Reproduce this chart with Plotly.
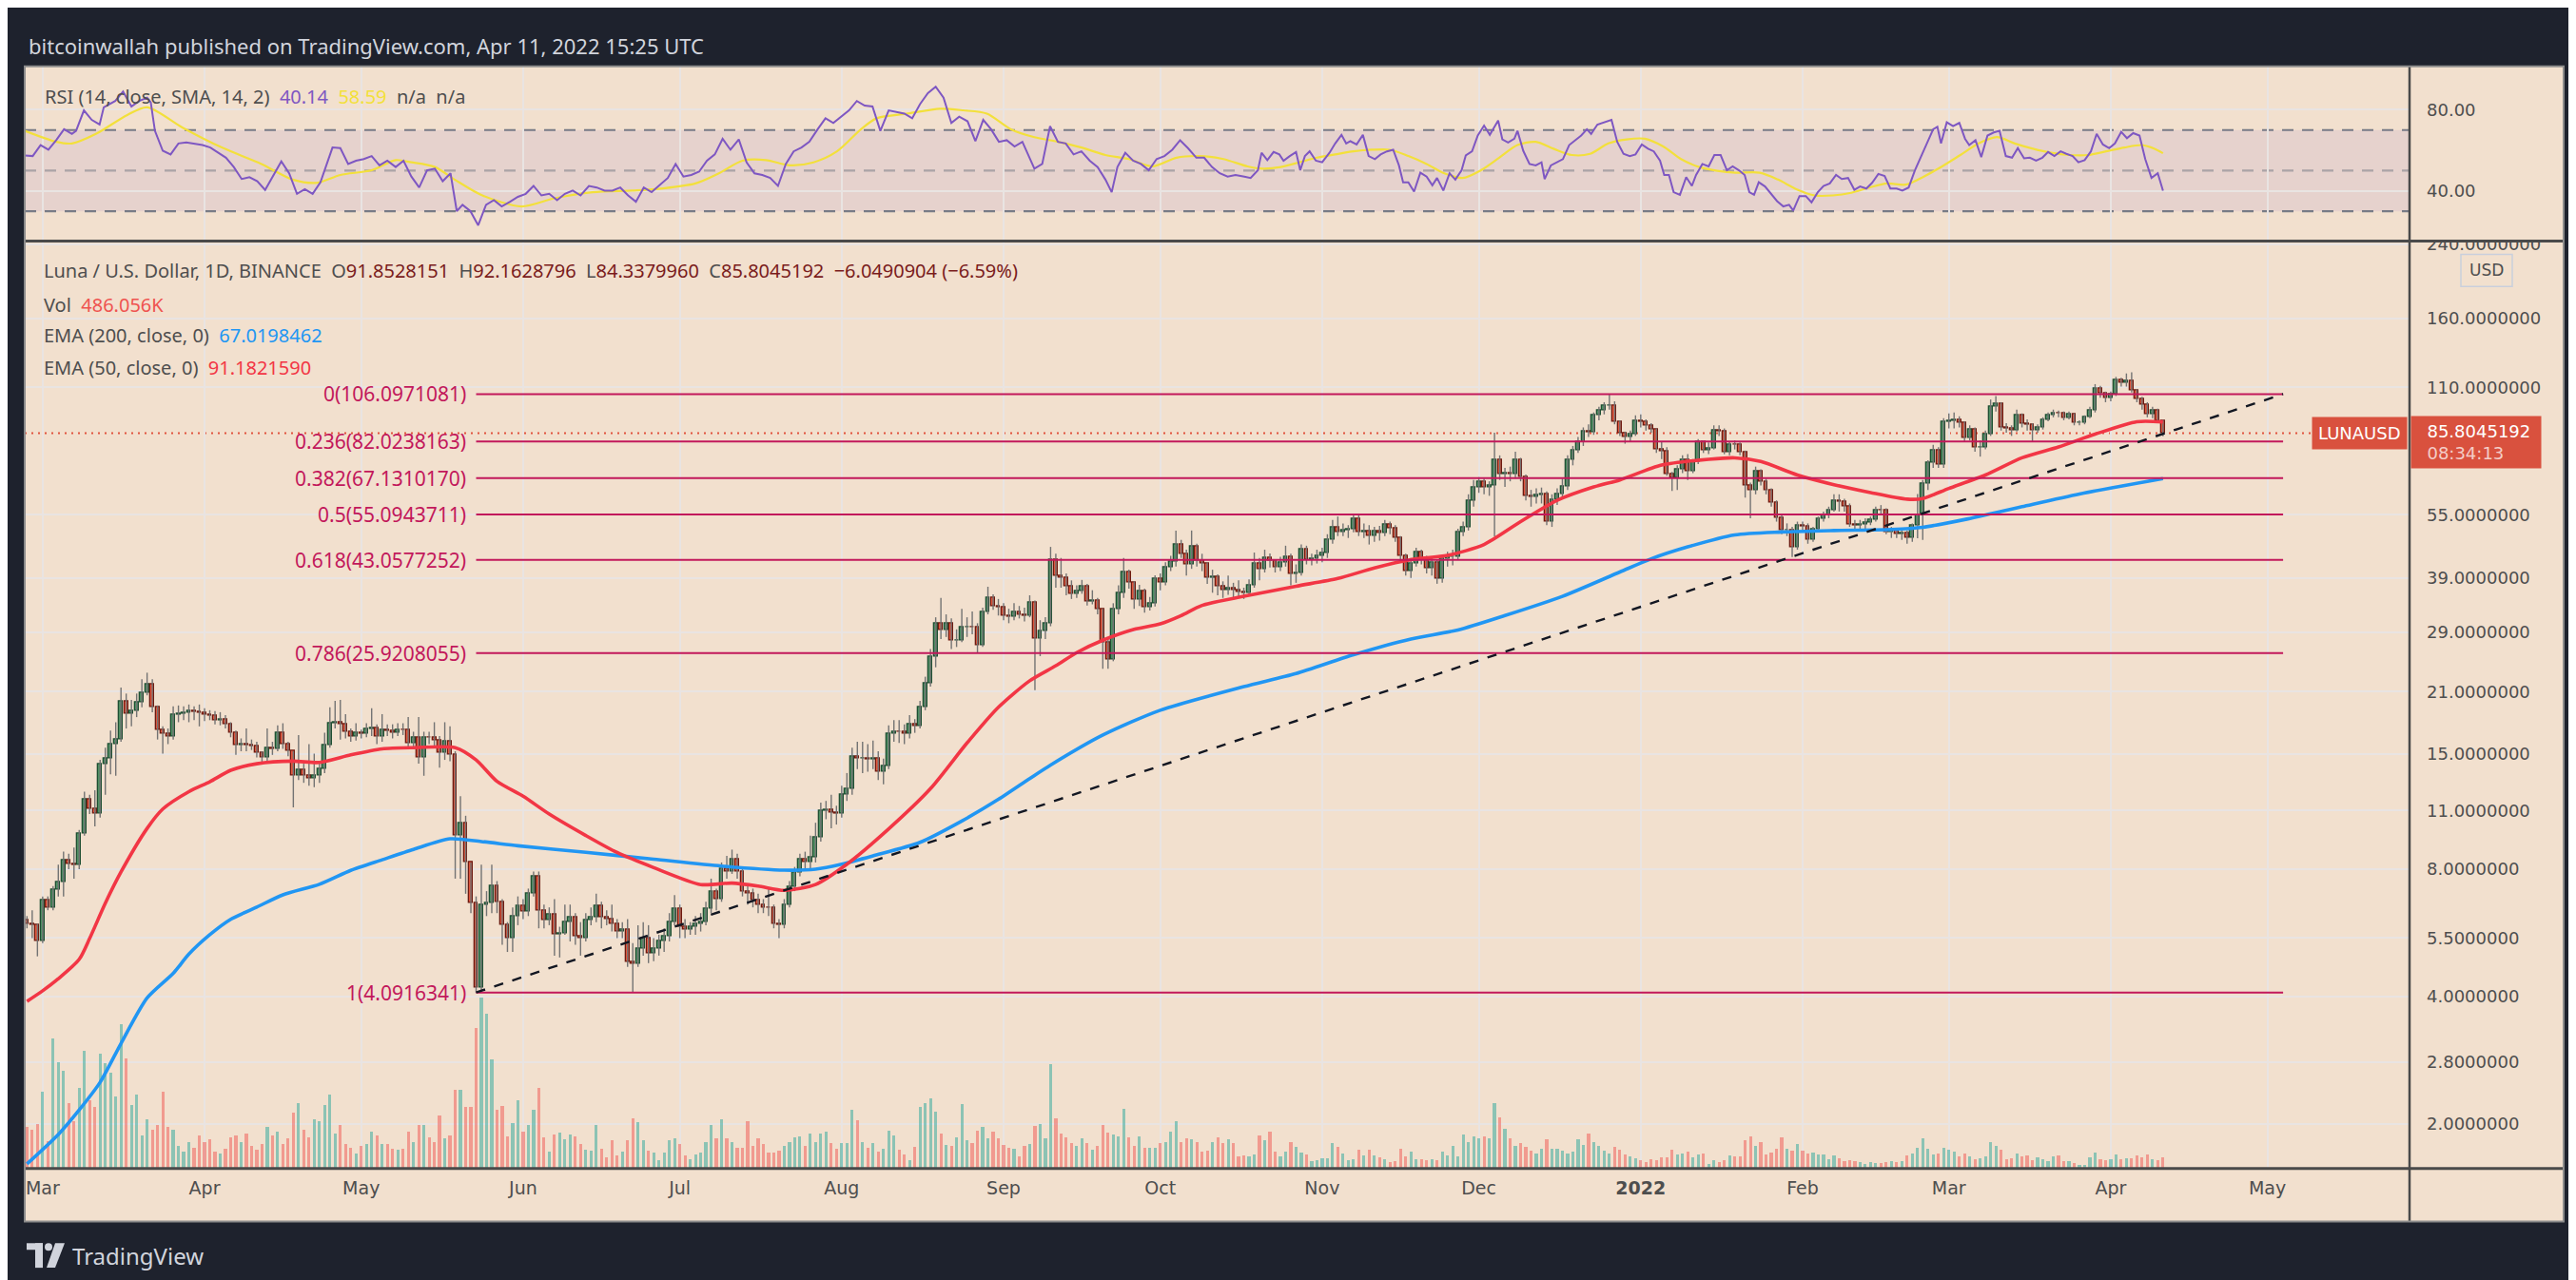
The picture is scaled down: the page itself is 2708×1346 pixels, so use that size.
import math
import pandas as pd
import plotly.graph_objects as go

W, H = 2708, 1346

# ---------------- daily candles LUNA/USD, from 2021-02-26 ----------------
first_open = 6.05

close_feb21 = [5.95, 5.90, 5.40]
high_feb21 = [6.20, 6.40, 5.95]
low_feb21 = [5.80, 5.50, 4.98]

close_mar21 = [6.77, 6.50, 7.17, 7.45, 8.42, 8.22, 8.20, 9.70, 11.70, 11.10, 10.80, 14.20, 14.60, 15.80, 16.20, 19.90,
               18.60, 18.90, 19.80, 20.90, 21.90, 19.30, 17.10, 16.70, 16.50, 18.50, 18.60, 18.70, 18.90, 18.80, 18.75]
high_mar21 = [6.90, 6.90, 7.30, 8.20, 8.80, 8.70, 9.00, 9.90, 12.20, 12.00, 12.30, 14.50, 15.50, 17.00, 17.80, 21.50,
              20.80, 20.10, 20.80, 22.50, 23.30, 22.50, 19.50, 17.40, 17.20, 19.40, 19.50, 19.40, 19.60, 19.40, 19.60]
low_mar21 = [5.35, 6.40, 6.40, 6.90, 6.90, 8.00, 7.60, 8.00, 9.60, 10.80, 10.10, 10.60, 12.00, 13.40, 13.30, 16.00,
             17.20, 17.40, 18.30, 19.30, 20.60, 18.80, 16.20, 15.00, 15.80, 16.20, 17.80, 18.00, 17.80, 18.00, 17.40]

close_apr21 = [18.50, 18.45, 18.00, 18.10, 17.60, 16.80, 15.70, 15.80, 15.70, 15.65, 15.10, 14.70, 15.50, 15.40, 16.80,
               15.80, 15.20, 13.30, 13.70, 13.30, 13.10, 13.30, 13.80, 15.70, 17.70, 17.75, 17.60, 16.90, 16.50, 16.80]
high_apr21 = [19.20, 19.00, 18.90, 18.80, 18.50, 17.80, 17.00, 16.30, 17.20, 16.20, 16.00, 15.20, 17.20, 16.00, 17.50,
              17.70, 16.00, 15.20, 16.60, 14.20, 15.80, 15.00, 14.40, 16.80, 19.30, 20.00, 20.10, 18.60, 17.20, 17.70]
low_apr21 = [17.90, 18.00, 17.60, 17.50, 17.20, 16.40, 14.90, 15.20, 15.20, 15.30, 14.70, 14.20, 14.40, 14.90, 15.20,
             15.40, 14.80, 11.20, 13.00, 12.80, 12.60, 12.50, 12.80, 13.50, 15.50, 17.20, 16.20, 16.30, 16.00, 16.10]

close_may21 = [16.70, 17.20, 17.25, 16.50, 17.10, 17.00, 16.80, 17.10, 17.05, 15.90, 16.40, 14.70, 16.40, 16.35, 16.10,
               15.10, 16.00, 14.90, 9.60, 10.30, 8.30, 6.64, 4.20, 6.60, 6.65, 7.30, 6.70, 5.90, 5.50, 6.20, 6.55]
high_may21 = [17.10, 17.70, 19.20, 17.60, 18.60, 17.60, 17.60, 17.70, 17.70, 18.30, 16.90, 18.30, 16.90, 16.90, 17.80,
              16.50, 17.80, 17.40, 15.20, 11.90, 10.70, 8.30, 6.90, 8.20, 7.10, 8.20, 7.50, 6.80, 6.00, 6.50, 6.90]
low_may21 = [16.30, 16.40, 16.50, 15.80, 16.00, 16.50, 16.30, 16.50, 16.60, 15.60, 15.60, 14.20, 13.30, 15.80, 15.50,
             13.90, 14.50, 14.40, 7.60, 7.60, 7.00, 6.30, 4.0916, 4.15, 6.20, 6.30, 6.30, 5.30, 5.10, 5.10, 5.90]

close_jun21 = [6.35, 7.00, 7.70, 6.40, 6.05, 6.25, 5.60, 5.63, 6.00, 6.15, 5.55, 5.50, 6.05, 6.15, 6.55,
               6.15, 6.10, 5.95, 5.70, 5.75, 4.83, 4.78, 5.20, 5.50, 5.05, 5.20, 5.40, 5.55, 6.00, 6.45]
high_jun21 = [6.80, 7.20, 7.90, 7.90, 6.60, 6.50, 6.80, 5.85, 6.60, 6.60, 6.30, 6.00, 6.30, 6.50, 7.00,
              6.70, 6.40, 6.60, 6.10, 6.00, 6.10, 5.35, 5.90, 6.00, 5.90, 5.50, 5.60, 5.80, 6.30, 6.95]
low_jun21 = [6.10, 6.20, 6.90, 5.80, 5.80, 5.90, 5.00, 4.95, 5.60, 5.40, 5.30, 5.00, 5.40, 5.90, 6.00,
             5.80, 5.90, 5.70, 5.50, 5.50, 4.70, 4.10, 4.70, 5.00, 4.80, 4.85, 5.00, 5.10, 5.40, 5.90]

close_jul21 = [5.85, 5.75, 5.85, 5.95, 6.00, 6.45, 7.10, 6.80, 8.00, 7.90, 8.45, 7.90, 7.10, 7.00, 6.75, 6.60,
               6.50, 6.47, 5.95, 5.90, 6.60, 7.25, 7.85, 8.45, 8.30, 8.55, 9.50, 11.00, 11.05, 10.90, 10.80]
high_jul21 = [6.60, 6.10, 6.00, 6.20, 6.30, 6.70, 7.60, 7.20, 8.30, 8.60, 8.90, 8.70, 8.00, 7.40, 7.20, 7.00,
              6.80, 7.20, 6.60, 6.10, 6.80, 7.50, 8.10, 8.70, 8.80, 9.60, 10.30, 11.50, 11.60, 12.00, 11.30]
low_jul21 = [5.50, 5.50, 5.60, 5.60, 5.70, 5.90, 6.30, 6.40, 6.70, 7.60, 7.80, 7.60, 6.90, 6.60, 6.50, 6.30,
             6.30, 6.20, 5.80, 5.50, 5.80, 6.50, 7.10, 7.70, 8.00, 8.00, 8.30, 9.30, 10.50, 10.00, 10.20]

close_aug21 = [12.00, 12.40, 14.80, 14.60, 14.65, 14.55, 14.60, 13.60, 14.00, 16.70, 16.90, 16.85, 16.70, 17.60, 17.40,
               19.30, 22.00, 25.40, 30.50, 29.40, 30.50, 27.70, 27.80, 29.80, 29.90, 29.85, 27.10, 32.50, 35.00, 33.50, 33.30]
high_aug21 = [12.60, 13.50, 15.50, 16.00, 16.00, 15.80, 16.10, 15.20, 14.60, 17.50, 18.00, 18.00, 17.60, 18.50, 18.10,
              20.00, 22.80, 26.50, 31.50, 35.00, 32.00, 31.30, 29.50, 33.00, 31.50, 32.50, 30.50, 33.20, 37.20, 35.70, 34.80]
low_aug21 = [10.60, 11.60, 12.00, 13.80, 13.50, 13.60, 13.80, 13.00, 12.70, 13.80, 16.00, 15.90, 15.80, 16.30, 16.80,
             17.20, 19.00, 21.60, 24.00, 28.00, 28.30, 26.50, 26.80, 27.50, 28.30, 28.70, 26.00, 26.80, 32.00, 32.80, 31.80]

close_sep21 = [31.70, 31.65, 32.50, 31.90, 31.70, 34.20, 28.00, 29.20, 30.50, 43.10, 39.40, 39.00, 37.30, 35.70, 36.40,
               37.30, 34.40, 34.50, 32.90, 27.50, 25.00, 33.00, 36.00, 40.20, 38.00, 34.70, 36.40, 33.30, 34.00, 38.80]
high_sep21 = [34.00, 33.00, 34.00, 33.50, 33.20, 35.50, 34.50, 31.00, 31.50, 46.20, 44.50, 43.50, 40.00, 38.50, 37.50,
              38.60, 37.80, 36.50, 35.00, 33.00, 28.00, 34.00, 37.50, 43.50, 40.80, 38.30, 37.60, 36.80, 35.20, 39.60]
low_sep21 = [31.00, 30.50, 31.00, 31.30, 30.80, 31.50, 21.20, 25.50, 28.00, 30.00, 37.00, 37.00, 35.50, 34.80, 35.00,
             35.80, 33.60, 33.80, 32.00, 23.80, 23.80, 24.80, 32.00, 35.00, 36.80, 33.00, 33.50, 32.30, 32.70, 33.40]

close_oct21 = [38.0, 41.3, 42.6, 46.8, 44.5, 42.0, 46.3, 42.9, 42.2, 39.1, 39.3, 37.3, 36.5, 36.8, 36.5, 36.2,
               35.9, 37.5, 42.3, 41.0, 43.6, 42.9, 41.3, 42.5, 43.7, 39.8, 40.0, 45.6, 43.0, 43.2, 44.0]
high_oct21 = [40.0, 42.5, 44.0, 50.5, 48.0, 45.5, 50.5, 47.0, 44.5, 42.5, 40.8, 39.8, 38.3, 39.5, 38.0, 38.5,
              37.0, 38.7, 44.8, 43.5, 45.5, 44.6, 43.2, 43.8, 46.5, 44.5, 42.0, 46.8, 46.5, 44.5, 45.5]
low_oct21 = [36.5, 37.5, 40.5, 41.5, 43.5, 39.5, 41.0, 41.5, 40.5, 37.8, 36.0, 35.5, 35.0, 35.6, 35.0, 35.2,
             34.8, 35.3, 37.0, 38.5, 40.2, 41.3, 40.2, 40.5, 41.5, 37.5, 38.0, 39.5, 42.0, 41.8, 42.2]

close_nov21 = [44.6, 48.0, 51.5, 50.1, 50.6, 50.9, 53.8, 50.1, 50.3, 49.0, 50.4, 49.8, 52.2, 51.0, 48.6,
               43.9, 40.4, 42.2, 44.8, 43.3, 41.2, 42.5, 38.8, 43.3, 43.7, 43.8, 50.1, 51.4, 59.5, 63.8]
high_nov21 = [46.0, 49.5, 53.5, 54.5, 52.5, 52.0, 55.0, 55.2, 52.5, 52.0, 51.5, 51.8, 53.5, 53.0, 52.0,
              49.0, 44.5, 43.5, 46.0, 45.5, 44.0, 43.5, 43.0, 43.8, 45.0, 45.5, 51.0, 53.0, 61.5, 66.5]
low_nov21 = [42.5, 43.5, 47.0, 49.0, 49.0, 48.5, 50.0, 49.0, 48.5, 46.8, 47.5, 47.8, 49.0, 49.5, 47.5,
             42.5, 39.5, 39.0, 41.5, 42.0, 40.0, 39.5, 37.8, 38.0, 41.5, 41.8, 43.0, 49.0, 50.5, 57.5]

close_dec21 = [65.9, 63.8, 64.5, 74.0, 68.8, 69.0, 68.6, 74.0, 67.6, 61.0, 60.6, 61.2, 61.5, 53.0, 59.8, 61.5,
               64.3, 74.3, 78.3, 81.7, 86.7, 86.0, 94.5, 96.9, 99.5, 99.7, 91.3, 85.6, 84.1, 85.3, 91.6]
high_dec21 = [67.5, 67.0, 66.0, 86.0, 76.0, 71.0, 71.5, 77.5, 75.0, 68.5, 63.0, 63.5, 63.8, 62.5, 61.5, 63.5,
              67.0, 76.0, 80.0, 84.0, 88.5, 90.0, 96.0, 99.0, 101.5, 106.1, 102.0, 92.0, 86.5, 87.0, 94.5]
low_dec21 = [62.0, 61.5, 61.0, 48.9, 66.5, 64.0, 66.0, 67.0, 66.0, 59.5, 57.5, 58.5, 58.5, 52.0, 51.5, 58.0,
             60.5, 63.0, 72.0, 77.0, 80.0, 84.0, 85.0, 92.0, 95.0, 97.5, 90.0, 84.5, 81.0, 82.0, 84.5]

close_jan22 = [91.0, 89.5, 87.5, 78.5, 77.8, 68.8, 67.1, 70.6, 74.1, 69.6, 73.3, 81.7, 78.3, 79.0, 87.0, 86.8,
               77.2, 80.7, 80.5, 77.2, 64.6, 62.9, 69.7, 65.8, 62.9, 58.7, 54.0, 50.5, 50.7, 46.2, 51.9]
high_jan22 = [95.0, 92.5, 90.5, 88.0, 82.0, 79.5, 69.5, 72.0, 76.0, 76.5, 74.5, 83.0, 82.5, 81.5, 89.5, 89.5,
              88.0, 82.0, 82.5, 81.5, 78.0, 65.5, 71.5, 70.5, 67.0, 63.5, 59.5, 55.0, 52.5, 51.5, 53.0]
low_jan22 = [88.5, 87.0, 86.0, 77.0, 74.5, 68.0, 62.6, 63.0, 69.0, 66.5, 69.0, 72.5, 77.0, 76.5, 78.5, 84.5,
             76.5, 76.0, 78.5, 76.0, 60.4, 54.0, 61.5, 64.5, 61.5, 57.5, 53.0, 49.5, 49.0, 43.7, 45.5]

close_feb22 = [51.7, 48.0, 50.9, 53.8, 54.9, 56.5, 59.5, 59.0, 57.5, 52.3, 51.9, 52.2, 52.8, 53.6,
               56.5, 56.3, 50.1, 50.5, 49.6, 49.8, 48.6, 51.9, 55.0, 65.3, 73.1, 78.3, 72.3, 91.3]
high_feb22 = [53.0, 52.5, 51.5, 54.5, 56.0, 57.5, 61.5, 61.5, 60.0, 58.5, 53.5, 53.5, 54.0, 54.5,
              57.5, 58.0, 57.0, 51.5, 51.0, 51.0, 50.5, 52.5, 61.6, 66.5, 74.0, 80.5, 79.5, 93.0]
low_feb22 = [50.0, 47.0, 47.5, 50.5, 53.0, 54.0, 56.0, 56.0, 56.0, 51.5, 50.5, 50.5, 51.0, 52.0,
             53.0, 55.0, 49.5, 48.5, 48.5, 48.0, 47.0, 47.5, 48.4, 48.0, 63.0, 71.0, 71.0, 71.0]

close_mar22 = [91.8, 92.1, 90.6, 83.5, 87.5, 79.3, 79.5, 85.3, 99.2, 100.9, 88.3, 88.0, 87.0, 94.5, 90.1, 90.0,
               87.0, 88.6, 92.1, 94.5, 95.7, 95.4, 93.2, 94.9, 90.6, 90.8, 93.7, 97.0, 109.3, 106.5, 103.9]
high_mar22 = [95.5, 96.0, 94.0, 91.5, 89.5, 88.5, 82.5, 87.0, 103.0, 105.0, 101.5, 90.5, 89.5, 97.5, 95.5, 92.5,
              90.5, 90.0, 93.5, 96.0, 97.5, 97.0, 96.5, 96.5, 95.5, 92.0, 94.5, 99.0, 112.0, 111.0, 107.5]
low_mar22 = [88.0, 88.0, 88.5, 82.0, 82.5, 77.5, 75.5, 78.5, 84.5, 96.5, 87.0, 86.0, 84.5, 86.5, 88.5, 87.0,
             82.0, 86.0, 87.5, 91.5, 93.5, 93.5, 92.0, 92.5, 89.5, 89.5, 90.0, 93.0, 96.0, 104.0, 101.5]

close_apr22 = [106.0, 114.5, 112.6, 114.0, 108.4, 103.4, 100.0, 94.9, 97.3, 91.8528151, 85.8045192]
high_apr22 = [107.5, 116.5, 116.0, 118.7, 119.5, 109.0, 104.5, 101.5, 99.0, 98.0, 92.1628796]
low_apr22 = [102.0, 105.0, 110.5, 110.5, 107.0, 101.5, 97.5, 93.5, 93.0, 91.0, 84.3379960]

# volume, thousands
vol_feb21 = [1820, 1700, 1950]
vol_mar21 = [3340, 1200, 5630, 4620, 4250, 2830, 2070, 3480, 5100, 2960, 2670, 4980, 4540, 4170, 3120, 6240,
             4780, 2750, 3200, 1460, 2150, 1700, 1900, 3320, 1820, 1700, 1010, 730, 1170, 930, 1460]
vol_apr21 = [1170, 1260, 730, 650, 850, 1380, 1460, 1170, 1540, 1010, 810, 1090, 1820, 1460, 1620,
             1090, 1340, 2430, 2830, 1700, 1380, 2150, 2070, 2750, 3200, 1540, 1900, 1090, 930, 650]
vol_may21 = [1010, 1090, 1620, 1460, 1090, 1090, 850, 810, 850, 1620, 1170, 1900, 1900, 1380, 1170, 2310,
             1340, 1460, 3400, 3400, 2670, 2670, 6080, 7400, 6680, 4740, 2550, 2710, 1420, 1980, 2960]
vol_jun21 = [1620, 1900, 2550, 3480, 1380, 730, 1500, 1580, 1260, 1500, 1420, 1090, 810, 770, 1900,
             850, 490, 1220, 570, 730, 1220, 2190, 2030, 1220, 770, 690, 360, 690, 1220, 1340]
vol_jul21 = [1090, 570, 410, 610, 690, 1170, 1900, 1340, 2150, 1340, 1170, 930, 890, 2070, 1010, 1300,
             1090, 690, 690, 770, 1010, 1170, 1380, 1420, 1010, 1540, 1170, 1540, 1620, 1130, 850]
vol_aug21 = [1130, 1130, 2550, 2110, 1170, 930, 1130, 730, 850, 1660, 1460, 810, 610, 360, 970, 2670,
             2840, 3040, 2470, 1540, 1050, 1010, 1380, 2790, 1220, 1130, 1660, 1820, 1340, 1620, 1340]
vol_sep21 = [1050, 930, 850, 530, 1010, 1090, 1860, 1940, 1300, 4500, 2190, 1540, 1380, 1130, 1010,
             1300, 1130, 810, 1010, 1900, 1580, 1500, 1420, 2590, 1380, 1010, 1420, 930, 890, 890]
vol_oct21 = [1130, 1170, 1620, 2070, 1170, 1340, 1260, 1170, 730, 770, 1170, 1380, 1130, 1260, 1130, 530,
             570, 530, 610, 1460, 1220, 1620, 730, 530, 730, 1170, 970, 690, 610, 320, 360]
vol_nov21 = [450, 450, 1130, 970, 650, 360, 410, 810, 570, 810, 570, 490, 410, 280, 320,
             850, 530, 730, 410, 410, 360, 410, 360, 730, 570, 1010, 530, 1500, 1170, 1420]
vol_dec21 = [1300, 1420, 1300, 2840, 2230, 1740, 1340, 1010, 1130, 970, 770, 650, 850, 1260, 850, 850,
             770, 650, 730, 1260, 1050, 1540, 1170, 1010, 770, 650, 970, 810, 610, 530, 450]
vol_jan22 = [360, 280, 410, 360, 490, 490, 810, 610, 650, 730, 490, 610, 650, 200, 360, 280,
             360, 570, 530, 530, 1220, 1420, 1010, 1170, 610, 690, 850, 1380, 850, 770, 1090]
vol_feb22 = [770, 650, 690, 610, 610, 410, 570, 450, 320, 360, 320, 280, 200, 280,
             240, 240, 280, 320, 280, 320, 570, 650, 890, 1300, 850, 610, 650, 930]
vol_mar22 = [810, 730, 530, 650, 530, 410, 450, 530, 1170, 1010, 810, 410, 450, 650, 530, 570,
             360, 490, 410, 320, 530, 570, 320, 320, 240, 160, 160, 490, 690, 410, 360]
vol_apr22 = [410, 610, 410, 450, 450, 570, 490, 610, 410, 360, 486.056]

# EMA lines, days after 2021-04-01
ema200_day = [-34, -28, -24, -20, -16, -11, -6, -3, 1, 5, 10, 15, 22, 28, 34, 40, 47, 53, 60, 73, 86, 99, 111, 117,
              122, 128, 137, 145, 152, 158, 162, 172, 183, 199, 209, 220, 231, 240, 249, 260, 271, 277, 284, 293,
              302, 312, 323, 329, 337, 348, 359, 375]
ema200_val = [1.61, 1.89, 2.16, 2.51, 3.10, 3.97, 4.54, 5.04, 5.60, 6.09, 6.51, 6.96, 7.37, 7.95, 8.42, 8.91, 9.44,
              9.30, 9.09, 8.77, 8.45, 8.14, 7.96, 8.00, 8.22, 8.60, 9.26, 10.4, 11.7, 13.1, 14.1, 16.6, 19.0, 21.6,
              23.2, 25.7, 28.0, 29.4, 31.8, 35.3, 40.3, 43.3, 46.2, 49.3, 50.1, 50.5, 50.8, 51.4, 53.6, 57.5, 61.6,
              67.0198462]
ema50_day = [-34, -31, -28, -24, -22, -19, -16, -11, -8, -3, 1, 5, 10, 17, 22, 28, 34, 40, 48, 52, 56, 61, 66, 73,
             79, 86, 95, 101, 106, 111, 117, 123, 131, 139, 146, 152, 158, 163, 167, 172, 178, 183, 187, 191, 199,
             209, 217, 224, 231, 238, 245, 252, 259, 266, 271, 279, 288, 293, 298, 305, 312, 319, 326, 329, 334,
             341, 348, 355, 362, 370, 375]
ema50_val = [3.90, 4.13, 4.41, 4.90, 5.49, 6.65, 7.88, 9.99, 11.1, 12.2, 12.87, 13.7, 14.2, 14.4, 14.3, 14.9, 15.4,
             15.5, 15.5, 14.5, 12.9, 11.9, 10.8, 9.61, 8.76, 8.07, 7.36, 7.42, 7.30, 7.13, 7.36, 8.22, 9.96, 12.4,
             15.9, 19.3, 22.3, 24.2, 26.0, 27.8, 29.5, 30.4, 31.8, 33.6, 35.3, 37.3, 38.9, 41.2, 43.1, 44.1, 46.8,
             53.0, 59.5, 64.0, 66.5, 72.1, 74.4, 75.0, 73.5, 68.3, 64.8, 62.1, 59.9, 60.1, 63.5, 68.3, 75.0, 79.6,
             85.3, 91.3, 91.182159]

# RSI(14) and its SMA(14), days after 2021-04-01
rsi_day = [-34.4, -32.9, -31.4, -29.9, -28.4, -26.9, -25.4, -24.6, -23.1, -21.6, -20.1, -19.3, -17.1, -15.6, -14.0,
           -12.5, -11.0, -10.3, -9.5, -8.0, -6.5, -5.0, -3.5, -2.0, -0.4, 1.1, 2.6, 4.1, 5.6, 7.1, 8.6, 10.1, 11.6,
           13.1, 14.7, 16.2, 17.7, 19.2, 20.7, 22.2, 23.7, 24.5, 26.0, 27.5, 29.0, 30.5, 32.0, 33.5, 35.0, 36.6,
           38.1, 39.6, 41.1, 42.6, 44.1, 45.6, 47.1, 48.3, 49.4, 50.9, 52.4, 53.9, 55.4, 56.9, 58.5, 60.0, 61.5,
           63.0, 64.5, 66.0, 67.5, 69.0, 70.5, 72.0, 73.6, 75.1, 76.6, 78.1, 79.6, 81.1, 82.6, 84.1, 85.6, 87.2,
           88.7, 90.2, 91.7, 93.2, 94.7, 96.2, 97.7, 99.2, 100.7, 102.3, 103.8, 105.3, 106.8, 108.3, 109.8, 111.3,
           112.8, 114.3, 115.8, 117.4, 118.9, 120.4, 121.9, 123.4, 124.9, 126.4, 127.9, 129.4, 131.0, 132.5, 134.0,
           135.5, 137.0, 138.5, 140.0, 141.5, 143.0, 144.5, 146.1, 147.6, 149.1, 150.6, 152.1, 153.6, 155.1, 156.6,
           158.9, 160.4, 161.9, 163.4, 164.9, 166.4, 167.9, 169.5, 171.0, 172.5, 173.7, 174.8, 176.3, 177.8, 179.3,
           180.8, 182.3, 183.8, 185.3, 186.8, 188.3, 189.9, 191.4, 192.9, 194.4, 195.9, 197.4,
           199.1, 200.3, 201.7, 202.4, 203.5, 204.7, 205.8, 206.6, 207.8, 209.0, 209.8, 210.7, 211.6, 212.8, 214.0,
           215.4, 216.5, 217.7, 218.6, 219.4, 220.6, 221.8, 222.9, 224.1, 225.2, 226.4, 227.6, 228.7, 229.5, 230.5,
           231.6, 232.8, 234.0, 235.1, 236.0, 237.2, 238.4, 239.5, 240.7, 241.5, 242.7, 243.8, 245.0, 246.1, 247.7,
           248.5, 249.6, 250.8, 251.4, 252.5, 253.7, 254.9, 256.0, 256.6, 257.8, 258.9, 260.1, 261.3, 262.4, 263.6,
           264.7, 265.5, 266.7, 268.2, 269.4, 270.5, 271.7, 272.9, 274.0, 275.2, 276.4, 277.5, 278.7, 279.5, 280.4,
           281.3, 282.5, 283.7, 284.8, 285.6, 286.8, 288.0, 289.1, 290.3, 291.5, 292.6, 293.8, 294.9, 295.8, 296.7,
           297.6, 298.8, 300.0, 301.1, 302.3, 303.4, 304.2, 305.4, 306.6, 307.7, 308.9, 310.0, 311.2, 312.4, 313.5,
           314.7, 315.9, 317.0, 318.2, 319.3, 320.5, 321.7, 322.8, 324.0, 325.1, 326.3, 327.5, 328.6, 329.8, 331.0,
           331.8, 332.5, 333.6, 334.8, 336.0, 337.1, 337.9, 339.1, 340.2, 341.4, 342.6, 343.7, 344.9, 346.1, 347.2,
           348.4, 349.5, 350.7, 351.9, 353.0, 354.2, 355.4, 356.5, 357.7, 358.8, 360.0, 361.2, 362.3, 363.5, 364.7,
           365.8, 367.0, 368.1, 369.3, 370.5, 371.6, 372.8, 374.0, 375.0]
rsi_val = [57.5, 57.2, 62.6, 60.3, 65.0, 70.4, 68.1, 69.6, 79.7, 75.0, 72.7, 81.2, 84.3, 89.0, 81.6,
           84.3, 85.9, 83.6, 69.6, 59.8, 58.0, 63.4, 63.9, 63.4, 62.6, 61.4, 58.8, 56.4, 51.8, 45.9, 46.8, 44.8, 40.5,
           47.1, 54.6, 48.7, 38.6, 40.9, 38.6, 44.3, 54.9, 61.4, 61.1, 53.3, 54.9, 55.7, 57.2, 52.6, 54.9, 51.8,
           54.9, 47.1, 41.7, 50.2, 51.0, 44.8, 48.7, 30.1, 33.2, 30.1, 23.1, 33.2, 35.5, 32.4, 34.7, 37.1, 38.6,
           42.5, 37.8, 38.6, 35.5, 38.6, 40.2, 37.8, 42.5, 41.7, 40.2, 40.2, 41.7, 37.8, 34.7, 41.7, 39.4, 42.8,
           46.4, 53.3, 47.1, 47.9, 49.5, 54.9, 58.0, 65.7, 60.3, 65.4, 54.1, 48.7, 47.9, 46.4, 42.5, 53.3,
           59.5, 61.4, 64.2, 70.4, 75.8, 73.5, 76.6, 79.7, 84.3, 82.0, 81.6, 69.6, 79.7, 78.9, 78.1,
           75.8, 82.8, 88.2, 91.3, 85.9, 73.5, 76.6, 74.3, 64.5, 75.0, 70.4, 64.2, 65.0, 61.9, 64.2,
           51.0, 53.3, 71.9, 64.2, 63.4, 58.0, 59.5, 54.9, 51.8, 45.6, 39.4, 51.8, 58.8, 54.9, 53.3,
           50.2, 55.7, 57.2, 60.3, 65.0, 61.1, 56.4, 56.4, 51.8, 48.7, 47.1, 47.9,
           47.1, 46.4, 50.2, 58.8, 55.2, 59.2, 58.0, 54.9, 57.2, 59.2, 50.2, 57.2, 59.5, 54.9, 54.1,
           58.8, 63.4, 67.6, 63.4, 64.5, 62.9, 67.6, 57.2, 55.7, 58.0, 59.5, 60.3, 52.6, 44.3, 44.3,
           39.7, 49.0, 47.1, 42.8, 46.4, 40.2, 48.7, 45.6, 50.2, 57.5, 59.5, 67.3, 72.2, 67.6, 74.7,
           65.4, 63.9, 65.7, 69.6, 59.8, 53.3, 52.6, 54.1, 45.9, 52.6, 54.1, 55.7, 62.6, 65.0, 67.3,
           70.4, 68.1, 72.7, 73.8, 75.0, 64.2, 58.3, 57.2, 58.0, 62.9, 60.8, 59.5, 54.9, 47.9, 47.9,
           39.4, 38.1, 46.8, 42.5, 47.9, 53.3, 52.1, 57.7, 57.7, 50.2, 52.1, 50.2, 47.9, 39.4, 38.1,
           44.3, 42.2, 38.6, 35.0, 32.4, 33.2, 30.4, 37.5, 37.5, 34.4, 39.4, 42.5, 43.7, 47.9, 45.9,
           46.4, 40.6, 42.2, 41.2, 44.0, 48.4, 47.4, 41.2, 41.2, 40.2, 41.7, 50.2, 56.4, 63.4, 70.4,
           71.6, 63.4, 73.8, 71.9, 73.5, 65.7, 62.6, 65.0, 56.7, 67.3, 68.8, 69.6, 57.2, 56.4, 61.1,
           56.1, 56.4, 54.9, 56.4, 59.2, 57.2, 59.5, 58.3, 57.2, 54.1, 55.2, 59.5, 68.1, 62.9, 61.1,
           63.4, 69.1, 66.0, 68.5, 67.3, 55.7, 46.4, 48.7, 40.14]
rsi_ma_day = [-34.4, -28.4, -25.4, -20.8, -14.8, -11.0, -4.2, 3.3, 10.9, 16.9, 21.5, 26.0, 32.0, 36.6, 39.6, 44.1,
              47.9, 53.2, 60.7, 66.8, 74.3, 81.9, 86.4, 94.0, 98.5, 103.0, 107.5, 112.1, 116.6, 121.1, 125.7, 128.7,
              134.7, 140.8, 145.3, 149.8, 154.4, 158.9, 163.4, 167.9, 172.5, 177.0, 181.5, 186.1, 190.6, 195.1,
              199.7, 202.6, 206.1, 209.6, 213.0, 216.5, 220.0, 223.5, 227.0, 230.5, 234.0, 237.4, 240.9, 244.4,
              247.9, 251.4, 254.9, 258.3, 261.8, 265.3, 268.8, 272.3, 275.8, 279.3, 282.7, 286.2, 289.7, 293.2,
              297.8, 301.3, 304.8, 308.3, 311.8, 315.3, 318.8, 322.2, 325.7, 329.2, 332.7, 336.2, 339.7, 343.2,
              346.6, 350.1, 353.6, 357.1, 360.6, 364.1, 367.6, 371.0, 373.4, 375.0]
rsi_ma_val = [69.6, 64.2, 63.4, 68.1, 77.4, 81.2, 71.2, 61.4, 53.3, 45.6, 44.0, 47.9, 50.2, 55.2, 54.1, 51.8,
              45.6, 37.8, 32.4, 36.3, 39.4, 40.2, 40.9, 43.7, 48.7, 54.9, 55.2, 52.6, 54.1, 59.5, 70.4, 75.8,
              78.1, 80.5, 79.7, 78.1, 70.4, 66.5, 64.2, 61.4, 57.7, 55.7, 52.1, 56.4, 57.2, 55.7,
              52.1, 51.0, 51.8, 54.1, 56.4, 58.0, 59.5, 60.3, 60.3, 57.2, 53.3, 48.7, 46.4, 50.2,
              56.4, 62.6, 64.2, 60.8, 57.7, 58.3, 63.4, 65.4, 65.7, 61.9, 55.7, 51.8, 49.9, 49.0,
              49.0, 45.6, 40.9, 37.8, 37.8, 39.1, 41.7, 43.7, 43.1, 47.1, 52.1, 57.7, 63.4, 66.5,
              63.4, 60.8, 58.8, 57.7, 57.7, 59.5, 61.4, 62.6, 60.8, 58.59]

# Fibonacci retracement drawn from the May 2021 low to May 2022
fib_ratio = ['0', '0.236', '0.382', '0.5', '0.618', '0.786', '1']
fib_value = [106.0971081, 82.0238163, 67.1310170, 55.0943711, 43.0577252, 25.9208055, 4.0916341]
fib_start, fib_end = '2021-05-23', '2022-05-04'

price_ticks = [2, 2.8, 4, 5.5, 8, 11, 15, 21, 29, 39, 55, 110, 160, 240]
month_ticks = pd.date_range('2021-03-01', '2022-05-01', freq='MS')
month_labels = ['Mar', 'Apr', 'May', 'Jun', 'Jul', 'Aug', 'Sep', 'Oct', 'Nov', 'Dec', '<b>2022</b>',
                'Feb', 'Mar', 'Apr', 'May']
last_price = 85.8045192

# ---------------- assemble ----------------
close = (close_feb21 + close_mar21 + close_apr21 + close_may21 + close_jun21 + close_jul21 + close_aug21 +
         close_sep21 + close_oct21 + close_nov21 + close_dec21 + close_jan22 + close_feb22 + close_mar22 + close_apr22)
high = (high_feb21 + high_mar21 + high_apr21 + high_may21 + high_jun21 + high_jul21 + high_aug21 +
        high_sep21 + high_oct21 + high_nov21 + high_dec21 + high_jan22 + high_feb22 + high_mar22 + high_apr22)
low = (low_feb21 + low_mar21 + low_apr21 + low_may21 + low_jun21 + low_jul21 + low_aug21 +
       low_sep21 + low_oct21 + low_nov21 + low_dec21 + low_jan22 + low_feb22 + low_mar22 + low_apr22)
vol = (vol_feb21 + vol_mar21 + vol_apr21 + vol_may21 + vol_jun21 + vol_jul21 + vol_aug21 +
       vol_sep21 + vol_oct21 + vol_nov21 + vol_dec21 + vol_jan22 + vol_feb22 + vol_mar22 + vol_apr22)
opens = [first_open] + close[:-1]
dates = pd.date_range('2021-02-26', periods=len(close), freq='D')
day0 = pd.Timestamp('2021-04-01')


def to_dates(days):
    return [(day0 + pd.Timedelta(days=d)).round('min') for d in days]


up = [c >= o for o, c in zip(opens, close)]

PEACH = '#f2e0ce'
FRAME = '#1e222d'
GRID = '#e9e4e2'
TXT = '#4e4e4e'
FIB = '#c2185b'
RED_LBL = '#d9513e'
UP_FILL, UP_LINE = '#4e8f62', '#1f4f33'
DN_FILL, DN_LINE = '#e0553c', '#6d1a10'


def px(x):
    return x / W


def py(y):
    return 1 - y / H


fig = go.Figure()

# volume (base axis, drawn under the candles)
fig.add_trace(go.Bar(
    x=dates, y=vol, yaxis='y', width=0.58 * 86400000,
    marker=dict(color=['rgba(38,166,154,0.5)' if u else 'rgba(239,83,80,0.5)' for u in up], line_width=0),
    hoverinfo='skip'))

# wicks
wx, wy = [], []
for d, h, l in zip(dates, high, low):
    wx += [d, d, None]
    wy += [l, h, None]
fig.add_trace(go.Scatter(x=wx, y=wy, yaxis='y3', mode='lines', line=dict(color='#737373', width=1.4),
                         hoverinfo='skip'))

# candle bodies
fig.add_trace(go.Bar(
    x=dates, y=[abs(c - o) for o, c in zip(opens, close)], base=[min(o, c) for o, c in zip(opens, close)],
    yaxis='y3', width=0.7 * 86400000,
    marker=dict(color=[UP_FILL if u else DN_FILL for u in up],
                line=dict(color=[UP_LINE if u else DN_LINE for u in up], width=1.3)),
    hoverinfo='skip'))

fig.add_trace(go.Scatter(x=to_dates(ema200_day), y=ema200_val, yaxis='y3', mode='lines',
                         line=dict(color='#2196f3', width=3.6, shape='spline', smoothing=0.7)))
fig.add_trace(go.Scatter(x=to_dates(ema50_day), y=ema50_val, yaxis='y3', mode='lines',
                         line=dict(color='#f23645', width=3.6, shape='spline', smoothing=0.7)))

# RSI panel
fig.add_trace(go.Scatter(x=to_dates(rsi_ma_day), y=rsi_ma_val, yaxis='y2', mode='lines',
                         line=dict(color='#f3e03b', width=2.2, shape='spline', smoothing=0.8)))
fig.add_trace(go.Scatter(x=to_dates(rsi_day), y=rsi_val, yaxis='y2', mode='lines',
                         line=dict(color='#7e57c2', width=2.0)))

x_left, x_right = '2021-02-25 13:40', '2022-05-28 05:00'
tick_font = dict(family='DejaVu Sans', size=18, color=TXT)

fig.update_layout(
    width=W, height=H, margin=dict(l=0, r=0, t=0, b=0),
    paper_bgcolor=FRAME, plot_bgcolor='rgba(0,0,0,0)',
    showlegend=False, barmode='overlay', bargap=0,
    xaxis=dict(type='date', domain=[px(18), px(2525)], range=[x_left, x_right], anchor='y',
               tickvals=month_ticks, ticktext=month_labels, ticks='', ticklabelstandoff=7,
               tickfont=dict(family='DejaVu Sans', size=19, color=TXT),
               showgrid=True, gridcolor=GRID, gridwidth=1.5, zeroline=False, showline=False),
    yaxis=dict(domain=[py(1220), py(239)], range=[0, 40000], visible=False, fixedrange=True),
    yaxis3=dict(type='log', overlaying='y', anchor='x', side='right', range=[0.196, 2.387],
                tickvals=price_ticks, ticktext=[f'{v:.7f}' for v in price_ticks], ticks='',
                ticklabelstandoff=17, tickfont=tick_font, showgrid=True, gridcolor=GRID, gridwidth=1.5,
                zeroline=False, showline=False),
    yaxis2=dict(domain=[py(239), py(54)], anchor='x', side='right', range=[15.3, 101.4],
                tickvals=[40, 80], ticktext=['40.00', '80.00'], ticks='', ticklabelstandoff=17,
                tickfont=tick_font, showgrid=True, gridcolor=GRID, gridwidth=1.5, zeroline=False, showline=False),
)

shapes = [
    dict(type='rect', xref='paper', yref='paper', x0=px(18), x1=px(2687), y0=py(1276), y1=py(54),
         fillcolor=PEACH, line_width=0, layer='below'),
    dict(type='rect', xref='paper', yref='y2', x0=px(18), x1=px(2525), y0=30, y1=70,
         fillcolor='rgba(126,87,194,0.1)', line_width=0, layer='below'),
]
for lvl, col in [(70, '#787b86'), (50, 'rgba(120,123,134,0.55)'), (30, '#787b86')]:
    shapes.append(dict(type='line', xref='paper', yref='y2', x0=px(18), x1=px(2525), y0=lvl, y1=lvl,
                       line=dict(color=col, width=2.2, dash='12px,9px'), layer='below'))
# current price, dotted across the whole pane
shapes.append(dict(type='line', xref='paper', yref='y3', x0=px(18), x1=px(2525), y0=last_price, y1=last_price,
                   line=dict(color='#e0533d', width=2, dash='2px,5px'), layer='below'))
for v in fib_value:
    shapes.append(dict(type='line', xref='x', yref='y3', x0=fib_start, x1=fib_end, y0=v, y1=v,
                       line=dict(color=FIB, width=2), layer='above'))
shapes += [
    dict(type='line', xref='x', yref='y3', x0=fib_start, x1=fib_end, y0=fib_value[-1], y1=fib_value[0],
         line=dict(color='#131722', width=2.4, dash='10px,10px'), layer='above'),
    # hide the top of the clipped 240 label
    dict(type='rect', xref='paper', yref='paper', x0=px(2527), x1=px(2686), y0=py(238), y1=py(222),
         fillcolor=PEACH, line_width=0, layer='above'),
    dict(type='line', xref='paper', yref='paper', x0=px(18), x1=px(2687), y0=py(239), y1=py(239),
         line=dict(color='#4a4a4a', width=3), layer='above'),
    dict(type='line', xref='paper', yref='paper', x0=px(18), x1=px(2687), y0=py(1220), y1=py(1220),
         line=dict(color='#4a4a4a', width=3), layer='above'),
    dict(type='line', xref='paper', yref='paper', x0=px(2525), x1=px(2525), y0=py(1276), y1=py(54),
         line=dict(color='#4a4a4a', width=2.5), layer='above'),
    dict(type='rect', xref='paper', yref='paper', x0=px(18), x1=px(2687), y0=py(1276), y1=py(54),
         line=dict(color='#8c8c8c', width=2), fillcolor='rgba(0,0,0,0)', layer='above'),
    dict(type='rect', xref='paper', yref='paper', x0=px(2579), x1=px(2633), y0=py(287), y1=py(253),
         line=dict(color='#c9cfdc', width=1.5), fillcolor='rgba(0,0,0,0)', layer='above'),
    # TradingView logo mark
    dict(type='rect', xref='paper', yref='paper', x0=px(20), x1=px(37), y0=py(1306), y1=py(1299),
         fillcolor='#d1d4dc', line_width=0, layer='above'),
    dict(type='rect', xref='paper', yref='paper', x0=px(29), x1=px(37), y0=py(1325), y1=py(1299),
         fillcolor='#d1d4dc', line_width=0, layer='above'),
    dict(type='circle', xref='paper', yref='paper', x0=px(39), x1=px(47), y0=py(1307), y1=py(1299),
         fillcolor='#d1d4dc', line_width=0, layer='above'),
    dict(type='path', xref='paper', yref='paper', layer='above', fillcolor='#d1d4dc', line_width=0,
         path=f'M {px(50)} {py(1299)} L {px(60)} {py(1299)} L {px(50)} {py(1325)} L {px(41)} {py(1325)} Z'),
]
fig.update_layout(shapes=shapes)

legend_font = dict(family='Noto Sans', size=20, color=TXT)
ohlc_col = '#7a1c1c'
sp = '&nbsp;&nbsp;'
ann = [
    dict(x=px(20), y=py(32), text='bitcoinwallah published on TradingView.com, Apr 11, 2022 15:25 UTC',
         font=dict(family='Noto Sans', size=22, color='#d1d4dc')),
    dict(x=px(37), y=py(86),
         text=f'RSI (14, close, SMA, 14, 2){sp}<span style="color:#7e57c2">40.14</span>{sp}'
              f'<span style="color:#f3e03b">58.59</span>{sp}n/a{sp}n/a', font=legend_font),
    dict(x=px(36), y=py(270),
         text=f'Luna / U.S. Dollar, 1D, BINANCE{sp}O<span style="color:{ohlc_col}">91.8528151</span>{sp}'
              f'H<span style="color:{ohlc_col}">92.1628796</span>{sp}L<span style="color:{ohlc_col}">84.3379960</span>'
              f'{sp}C<span style="color:{ohlc_col}">85.8045192</span>{sp}'
              f'<span style="color:{ohlc_col}">−6.0490904 (−6.59%)</span>', font=legend_font),
    dict(x=px(36), y=py(306), text=f'Vol{sp}<span style="color:#ef5350">486.056K</span>', font=legend_font),
    dict(x=px(36), y=py(339), text=f'EMA (200, close, 0){sp}<span style="color:#2196f3">67.0198462</span>',
         font=legend_font),
    dict(x=px(36), y=py(373), text=f'EMA (50, close, 0){sp}<span style="color:#f23645">91.1821590</span>',
         font=legend_font),
    dict(x=px(66), y=py(1312), text='TradingView', font=dict(family='Noto Sans', size=24, color='#d1d4dc')),
    dict(x=px(2606), y=py(270), xanchor='center', text='USD', font=dict(family='DejaVu Sans', size=17, color=TXT)),
]
for a in ann:
    a.update(xref='paper', yref='paper', showarrow=False)
    a.setdefault('xanchor', 'left')
    a.setdefault('yanchor', 'middle')

# annotations on a log axis take the exponent as position
for r, v in zip(fib_ratio, fib_value):
    ann.append(dict(xref='x', yref='y3', x=fib_start, y=math.log10(v), xanchor='right', yanchor='middle',
                    xshift=-9, text=f'{r}({v:.7f})', showarrow=False,
                    font=dict(family='Noto Sans', size=21, color=FIB)))

ann += [
    dict(xref='paper', yref='y3', x=px(2523), y=math.log10(last_price), xanchor='right', yanchor='middle',
         text='LUNAUSD', showarrow=False, bgcolor=RED_LBL, borderpad=6,
         font=dict(family='DejaVu Sans', size=18, color='white')),
    dict(xref='paper', yref='y3', x=px(2526), y=math.log10(last_price), xanchor='left', yanchor='top', yshift=18,
         text=f'&nbsp;&nbsp;{last_price:.7f}&nbsp;<br>&nbsp;&nbsp;<span style="color:rgba(255,255,255,0.72)">'
              f'08:34:13</span>', align='left',
         showarrow=False, bgcolor=RED_LBL, borderpad=5,
         font=dict(family='DejaVu Sans', size=18, color='white')),
]
fig.update_layout(annotations=ann)

fig.write_html('out.html')
